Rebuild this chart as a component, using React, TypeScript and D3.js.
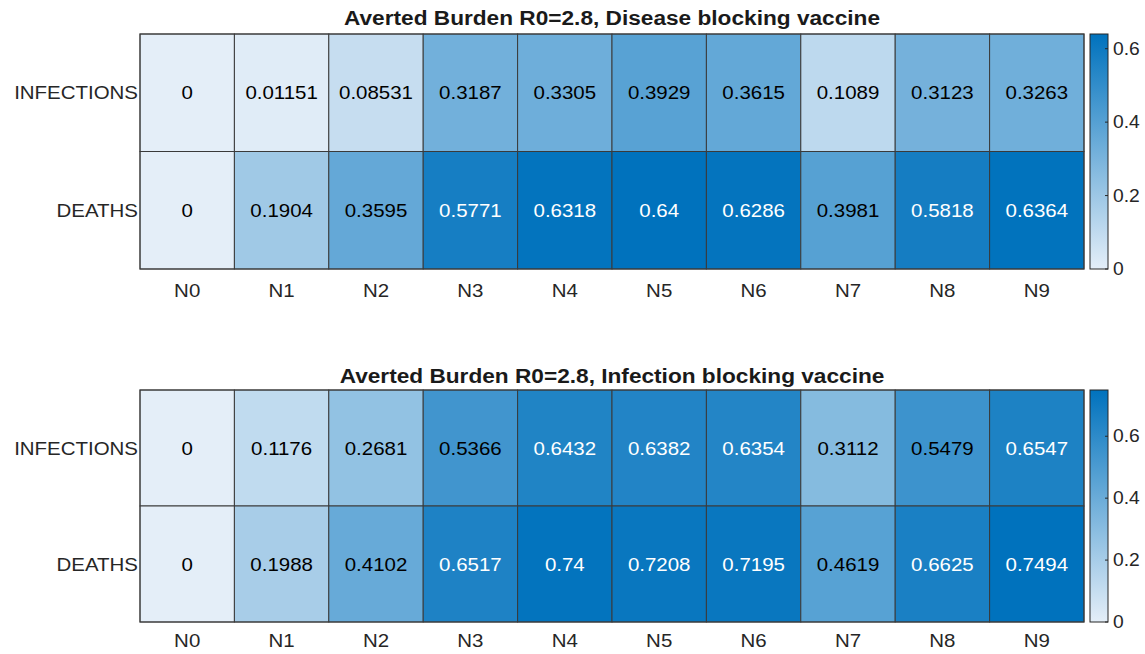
import React from "react";
import * as d3 from "d3";

const categories = ["N0", "N1", "N2", "N3", "N4", "N5", "N6", "N7", "N8", "N9"];
const rowLabels = ["INFECTIONS", "DEATHS"];
const diseaseInfections = [0, 0.01151, 0.08531, 0.3187, 0.3305, 0.3929, 0.3615, 0.1089, 0.3123, 0.3263];
const diseaseDeaths = [0, 0.1904, 0.3595, 0.5771, 0.6318, 0.64, 0.6286, 0.3981, 0.5818, 0.6364];
const infectionInfections = [0, 0.1176, 0.2681, 0.5366, 0.6432, 0.6382, 0.6354, 0.3112, 0.5479, 0.6547];
const infectionDeaths = [0, 0.1988, 0.4102, 0.6517, 0.74, 0.7208, 0.7195, 0.4619, 0.6625, 0.7494];
const colorbarTicks = [0, 0.2, 0.4, 0.6];

const panels = [
  { title: "Averted Burden R0=2.8, Disease blocking vaccine", rows: [diseaseInfections, diseaseDeaths], top: 34, bottom: 269, labelOff: 21, titleOff: 9 },
  { title: "Averted Burden R0=2.8, Infection blocking vaccine", rows: [infectionInfections, infectionDeaths], top: 390, bottom: 622, labelOff: 18, titleOff: 7 },
];

const LOW = "rgb(228,238,248)";
const HIGH = "rgb(0,114,189)";
const FONT = "'Liberation Sans', Arial, Helvetica, sans-serif";
const SX = 1.1;
const fmt = d3.format(".4~g");

function T({ x, y, anchor = "middle", size = 18.6, bold = false, fill = "#262626", dy = "0.35em", children }: any) {
  return (
    <text
      transform={`translate(${x},${y}) scale(${SX},1)`}
      dy={dy}
      textAnchor={anchor}
      fontFamily={FONT}
      fontWeight={bold ? "bold" : "normal"}
      fontSize={size}
      fill={fill}
    >
      {children}
    </text>
  );
}

function Panel({ p, id }: { p: typeof panels[number]; id: number }) {
  const x0 = 140, x1 = 1084;
  const all = p.rows.flat();
  const vmax = d3.max(all) as number;
  const vmin = 0;
  const x = d3.scaleBand().domain(categories).range([x0, x1]);
  const y = d3.scaleBand().domain(rowLabels).range([p.top, p.bottom]);
  const color = d3.scaleLinear<string>().domain([vmin, vmax]).range([LOW, HIGH]).interpolate(d3.interpolateRgb);
  const cbX = 1090, cbW = 18;
  const cbY = d3.scaleLinear().domain([vmin, vmax]).range([p.bottom, p.top]);
  const gid = `cbgrad${id}`;
  const lum = (c: string) => {
    const r = d3.rgb(c);
    return (0.299 * r.r + 0.587 * r.g + 0.114 * r.b) / 255;
  };
  return (
    <g>
      <defs>
        <linearGradient id={gid} x1="0" y1="1" x2="0" y2="0">
          <stop offset="0" stopColor={LOW} />
          <stop offset="1" stopColor={HIGH} />
        </linearGradient>
      </defs>
      <T x={(x0 + x1) / 2} y={p.top - p.titleOff} size={20.6} bold dy="0" fill="#1a1a1a">
        {p.title}
      </T>
      {p.rows.map((row, ri) =>
        row.map((v, ci) => {
          const c = color(v);
          return (
            <g key={`${ri}-${ci}`}>
              <rect x={x(categories[ci])} y={y(rowLabels[ri])} width={x.bandwidth()} height={y.bandwidth()} fill={c} stroke="#3a3a3a" strokeWidth={1} />
              <T
                x={(x(categories[ci]) as number) + x.bandwidth() / 2}
                y={(y(rowLabels[ri]) as number) + y.bandwidth() / 2}
                fill={lum(c) < 0.47 ? "#ffffff" : "#000000"}
              >
                {fmt(v)}
              </T>
            </g>
          );
        })
      )}
      <rect x={x0} y={p.top} width={x1 - x0} height={p.bottom - p.top} fill="none" stroke="#3a3a3a" strokeWidth={1} />
      {rowLabels.map((r) => (
        <T key={r} x={x0 - 2} y={(y(r) as number) + y.bandwidth() / 2} anchor="end">
          {r}
        </T>
      ))}
      {categories.map((c) => (
        <T key={c} x={(x(c) as number) + x.bandwidth() / 2} y={p.bottom + p.labelOff}>
          {c}
        </T>
      ))}
      <rect x={cbX} y={p.top} width={cbW} height={p.bottom - p.top} fill={`url(#${gid})`} stroke="#262626" strokeWidth={1} />
      {colorbarTicks.map((t) => (
        <g key={t}>
          <line x1={cbX + cbW} x2={cbX + cbW - 3} y1={cbY(t)} y2={cbY(t)} stroke="#262626" strokeWidth={1} />
          <T x={cbX + cbW + 5} y={cbY(t)} anchor="start" size={17.5}>
            {t}
          </T>
        </g>
      ))}
    </g>
  );
}

export default function App() {
  return (
    <svg width={1145} height={654} style={{ position: "absolute", left: 0, top: 0, background: "#fff" }}>
      {panels.map((p, i) => (
        <Panel key={i} p={p} id={i} />
      ))}
    </svg>
  );
}
